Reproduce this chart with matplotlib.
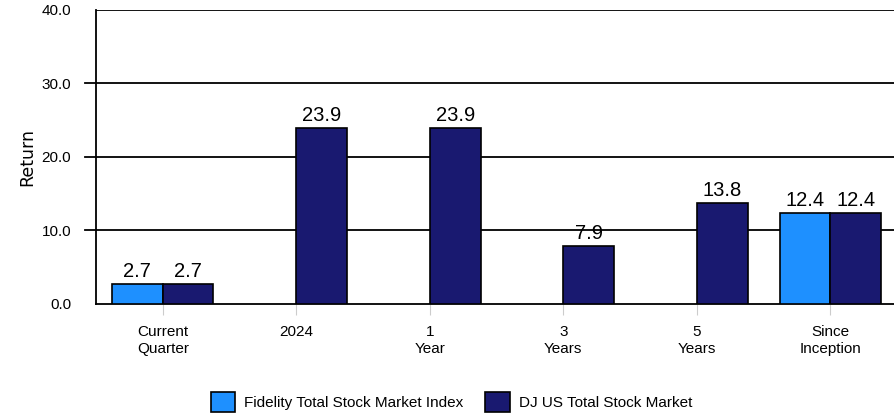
import numpy as np
import matplotlib
matplotlib.use("Agg")
import matplotlib.pyplot as plt
from matplotlib.patches import Patch

plt.rcParams.update({"font.family": ["Liberation Sans", "DejaVu Sans"], "font.size": 11})

categories = ["Current\nQuarter", "2024", "1\nYear", "3\nYears", "5\nYears", "Since\nInception"]
fund_name = "Fidelity Total Stock Market Index"
bench_name = "DJ US Total Stock Market"
fund = [2.7, np.nan, np.nan, np.nan, np.nan, 12.4]
bench = [2.7, 23.9, 23.9, 7.9, 13.8, 12.4]
yticks = [0, 10, 20, 30, 40]

FUND_C = "#1E90FF"; BENCH_C = "#191970"

fig = plt.figure(figsize=(8.94, 4.15), dpi=100)
ax = fig.add_axes([0.1074, 0.2675, 0.896, 0.7085])
x = np.arange(len(categories))
w = 0.38

ax.bar(x - w / 2, fund, w, color=FUND_C, edgecolor="black", lw=1.2, zorder=3)
ax.bar(x + w / 2, bench, w, color=BENCH_C, edgecolor="black", lw=1.2, zorder=3)
for xs, vals in ((x - w / 2, fund), (x + w / 2, bench)):
    for xi, v in zip(xs, vals):
        if not np.isnan(v):
            ax.text(xi, v + 0.4, f"{v:.1f}", ha="center", va="bottom", fontsize=14.5, zorder=2)

ax.set_xlim(-0.5, len(categories) - 0.5)
ax.set_ylim(0, 40)
ax.set_yticks(yticks)
ax.set_yticklabels([f"{t:.1f}" for t in yticks])
for t in yticks[1:]:
    ax.axhline(t, color="black", lw=1.3, zorder=1)
# left tick marks only at inner gridlines
ax.tick_params(axis="y", length=0, pad=18)
for t in yticks[1:-1]:
    ax.plot([-0.58, -0.5], [t, t], color="black", lw=1.3, clip_on=False)
ax.set_xticks(x)
ax.set_xticklabels(categories, linespacing=1.3)
ax.tick_params(axis="x", length=8, color="#cccccc", pad=7)
ax.set_ylabel("Return", fontsize=12.5, labelpad=4, family="DejaVu Sans")
for s in ("top", "right"):
    ax.spines[s].set_visible(False)
ax.spines["left"].set_linewidth(1.3)
ax.spines["bottom"].set_linewidth(1.3)

handles = [Patch(facecolor=FUND_C, edgecolor="black", lw=1.2, label=fund_name),
           Patch(facecolor=BENCH_C, edgecolor="black", lw=1.2, label=bench_name)]
fig.legend(handles=handles, loc="center", bbox_to_anchor=(0.505, 0.031), ncol=2, frameon=False,
           fontsize=11, handlelength=1.6, handleheight=1.6, columnspacing=1.4, handletextpad=0.6,
           borderpad=0)

fig.savefig("out.png", dpi=100)
